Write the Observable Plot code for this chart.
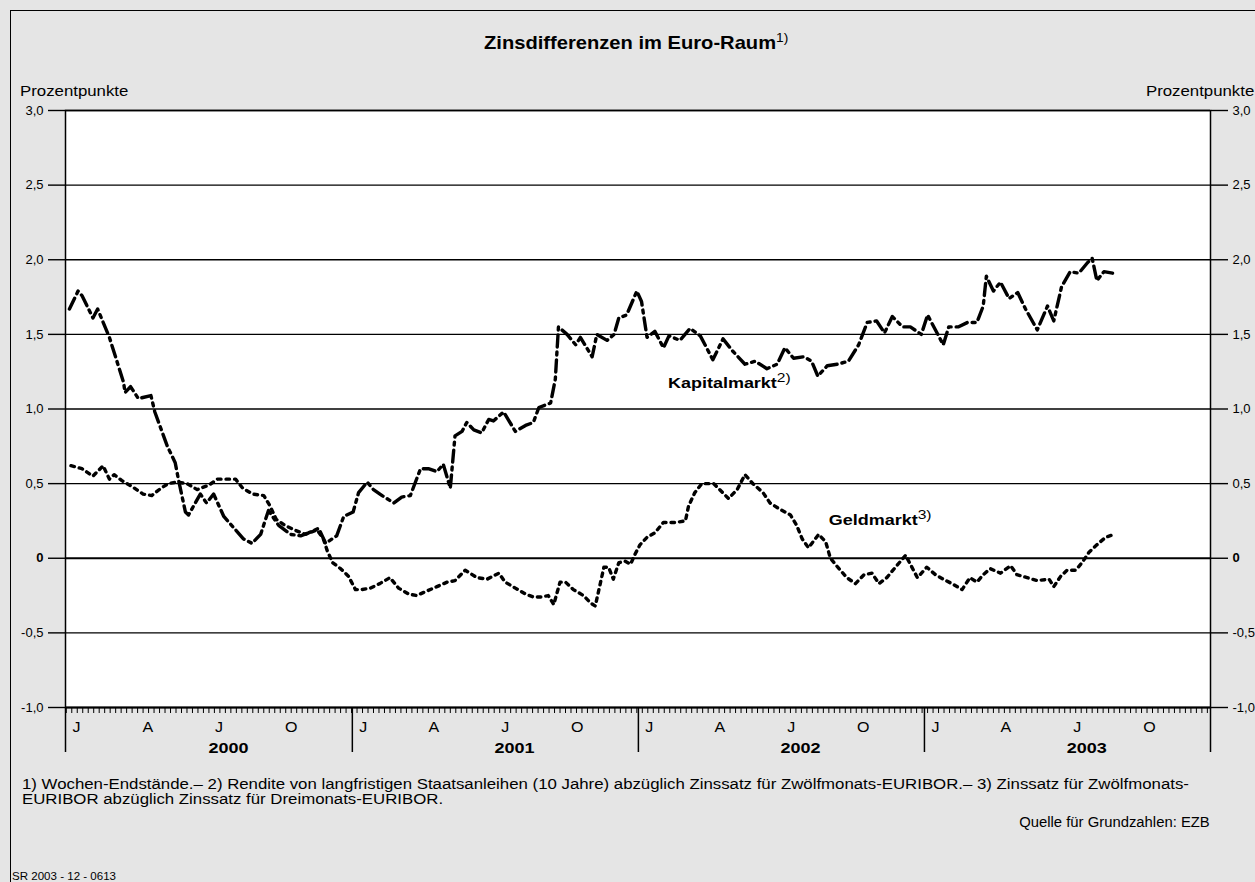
<!DOCTYPE html>
<html><head><meta charset="utf-8">
<script src="https://cdn.jsdelivr.net/npm/d3@7"></script>
<script src="https://cdn.jsdelivr.net/npm/@observablehq/plot@0.6"></script>
<style>
html,body{margin:0;padding:0;width:1255px;height:882px;overflow:hidden;background:#e5e5e5;font-family:"Liberation Sans",Arial,Helvetica,sans-serif;color:#000;}
#frame{position:absolute;left:10px;top:10px;width:1300px;height:950px;border:1.5px solid #000;box-sizing:border-box;}
.abs{position:absolute;white-space:nowrap;}
#title{left:484px;top:32px;font-weight:bold;font-size:19px;transform:scaleX(1.06);transform-origin:0 0;}
#title sup{font-weight:normal;font-size:13px;vertical-align:0;position:relative;top:-7px;}
#ppl{left:20px;top:83px;font-size:14px;transform:scaleX(1.2);transform-origin:0 0;}
#ppr{right:1px;top:83px;font-size:14px;transform:scaleX(1.2);transform-origin:100% 0;}
#chart{left:0;top:60px;}
#fn{left:22px;top:777px;font-size:14px;line-height:14.5px;transform:scaleX(1.2);transform-origin:0 0;}
#src{right:45px;top:814px;font-size:14px;transform:scaleX(1.06);transform-origin:100% 0;}
#sr{left:12px;top:870px;font-size:10.5px;transform:scaleX(1.1);transform-origin:0 0;}
</style>
</head><body>
<div id="frame"></div>
<div id="title" class="abs">Zinsdifferenzen im Euro-Raum<sup>1)</sup></div>
<div id="ppl" class="abs">Prozentpunkte</div>
<div id="ppr" class="abs">Prozentpunkte</div>
<div id="chart" class="abs"></div>
<div id="fn" class="abs">1) Wochen-Endstände.– 2) Rendite von langfristigen Staatsanleihen (10 Jahre) abzüglich Zinssatz für Zwölfmonats-EURIBOR.– 3) Zinssatz für Zwölfmonats-<br>EURIBOR abzüglich Zinssatz für Dreimonats-EURIBOR.</div>
<div id="src" class="abs">Quelle für Grundzahlen: EZB</div>
<div id="sr" class="abs">SR 2003 - 12 - 0613</div>
<script>
// ---- data ----
const kapDates = ["2000-01-06","2000-01-17","2000-01-22","2000-02-05","2000-02-11","2000-02-26","2000-03-15","2000-03-17","2000-03-24","2000-04-03","2000-04-19","2000-04-24","2000-05-10","2000-05-20","2000-05-24","2000-06-02","2000-06-06","2000-06-21","2000-06-29","2000-07-08","2000-07-21","2000-08-05","2000-08-15","2000-08-26","2000-09-06","2000-09-16","2000-09-29","2000-10-14","2000-10-27","2000-11-06","2000-11-19","2000-11-28","2000-12-12","2000-12-21",
"2001-01-02","2001-01-09","2001-01-20","2001-01-28","2001-02-08","2001-02-23","2001-03-05","2001-03-16","2001-03-29","2001-04-08","2001-04-19","2001-04-27","2001-05-06","2001-05-12","2001-05-21","2001-05-27","2001-06-05","2001-06-15","2001-06-24","2001-06-30","2001-07-13","2001-07-28","2001-08-10","2001-08-20","2001-08-27","2001-09-11","2001-09-17","2001-09-21","2001-10-02","2001-10-13","2001-10-19","2001-11-03","2001-11-09","2001-11-22","2001-12-01","2001-12-07","2001-12-17","2001-12-30",
"2002-01-05","2002-01-12","2002-01-22","2002-02-02","2002-02-09","2002-02-23","2002-03-08","2002-03-21","2002-04-06","2002-04-19","2002-05-01","2002-05-17","2002-05-30","2002-06-14","2002-06-27","2002-07-07","2002-07-18","2002-07-31","2002-08-10","2002-08-18","2002-08-30","2002-09-12","2002-09-26","2002-10-09","2002-10-20","2002-11-01","2002-11-11","2002-11-21","2002-12-04","2002-12-14","2002-12-28",
"2003-01-05","2003-01-25","2003-02-01","2003-02-13","2003-02-25","2003-03-09","2003-03-17","2003-03-21","2003-03-30","2003-04-08","2003-04-19","2003-04-30","2003-05-10","2003-05-25","2003-06-07","2003-06-15","2003-06-25","2003-07-06","2003-07-17","2003-07-28","2003-08-03","2003-08-09","2003-08-18","2003-08-29"];
const kapValues = [1.67,1.79,1.76,1.61,1.67,1.48,1.18,1.11,1.15,1.07,1.09,0.98,0.75,0.64,0.53,0.31,0.29,0.43,0.37,0.43,0.28,0.19,0.13,0.10,0.16,0.32,0.22,0.16,0.15,0.17,0.20,0.10,0.15,0.28,
0.31,0.44,0.51,0.46,0.42,0.37,0.41,0.42,0.60,0.60,0.58,0.63,0.47,0.82,0.85,0.91,0.86,0.84,0.93,0.92,0.98,0.85,0.89,0.91,1.01,1.04,1.20,1.55,1.50,1.43,1.48,1.35,1.50,1.46,1.50,1.61,1.63,1.79,
1.72,1.48,1.52,1.41,1.49,1.46,1.54,1.49,1.33,1.47,1.39,1.30,1.32,1.27,1.30,1.41,1.34,1.35,1.32,1.22,1.29,1.30,1.32,1.43,1.58,1.59,1.51,1.62,1.55,1.55,1.50,
1.63,1.43,1.55,1.55,1.58,1.58,1.69,1.89,1.79,1.85,1.74,1.78,1.67,1.53,1.69,1.59,1.82,1.92,1.91,1.98,2.01,1.86,1.92,1.91];

const geldDates = ["2000-01-08","2000-01-22","2000-02-05","2000-02-18","2000-02-26","2000-03-03","2000-03-13","2000-03-26","2000-04-09","2000-04-20","2000-05-02","2000-05-11","2000-05-22","2000-06-04","2000-06-17","2000-07-02","2000-07-13","2000-07-26","2000-08-05","2000-08-14","2000-08-27","2000-09-10","2000-09-18","2000-09-26","2000-10-07","2000-10-19","2000-11-02","2000-11-17","2000-11-25","2000-11-30","2000-12-07","2000-12-17","2000-12-27",
"2001-01-05","2001-01-13","2001-01-24","2001-02-05","2001-02-18","2001-03-01","2001-03-14","2001-03-24","2001-04-06","2001-04-19","2001-05-02","2001-05-12","2001-05-25","2001-06-09","2001-06-22","2001-07-07","2001-07-15","2001-07-28","2001-08-10","2001-08-20","2001-08-30","2001-09-08","2001-09-15","2001-09-23","2001-09-30","2001-10-10","2001-10-23","2001-11-01","2001-11-07","2001-11-18","2001-11-24","2001-11-30","2001-12-07","2001-12-15","2001-12-22","2001-12-28",
"2002-01-03","2002-01-12","2002-01-22","2002-02-02","2002-02-17","2002-03-02","2002-03-06","2002-03-14","2002-03-23","2002-04-07","2002-04-26","2002-05-07","2002-05-17","2002-05-27","2002-06-09","2002-06-18","2002-06-30","2002-07-14","2002-07-22","2002-07-29","2002-08-06","2002-08-19","2002-08-28","2002-09-03","2002-09-14","2002-09-24","2002-10-05","2002-10-16","2002-10-26","2002-11-04","2002-11-14","2002-11-25","2002-12-08","2002-12-14","2002-12-23",
"2003-01-04","2003-01-15","2003-01-25","2003-02-05","2003-02-18","2003-02-28","2003-03-09","2003-03-17","2003-03-26","2003-04-08","2003-04-21","2003-04-29","2003-05-12","2003-05-25","2003-06-09","2003-06-15","2003-06-24","2003-07-02","2003-07-13","2003-07-21","2003-07-30","2003-08-09","2003-08-20","2003-08-31"];
const geldValues = [0.62,0.60,0.55,0.62,0.53,0.56,0.52,0.48,0.43,0.42,0.47,0.50,0.51,0.50,0.46,0.49,0.53,0.53,0.53,0.47,0.43,0.42,0.35,0.26,0.22,0.19,0.16,0.19,0.13,0.05,-0.03,-0.07,-0.12,
-0.21,-0.21,-0.20,-0.17,-0.13,-0.20,-0.24,-0.25,-0.22,-0.19,-0.16,-0.15,-0.08,-0.13,-0.14,-0.10,-0.16,-0.20,-0.24,-0.26,-0.26,-0.25,-0.31,-0.16,-0.16,-0.21,-0.25,-0.30,-0.32,-0.06,-0.06,-0.14,-0.03,-0.02,-0.04,0.03,
0.09,0.14,0.17,0.24,0.24,0.25,0.35,0.44,0.50,0.50,0.40,0.46,0.56,0.50,0.44,0.37,0.33,0.29,0.22,0.13,0.07,0.16,0.11,0.00,-0.07,-0.13,-0.17,-0.11,-0.10,-0.17,-0.13,-0.06,0.02,-0.04,-0.13,
-0.06,-0.11,-0.14,-0.17,-0.21,-0.13,-0.16,-0.11,-0.07,-0.10,-0.05,-0.11,-0.13,-0.15,-0.14,-0.19,-0.12,-0.08,-0.08,-0.03,0.04,0.09,0.14,0.16];

const seriesNames = ["Kapitalmarkt", "Geldmarkt"];
const seriesNotes = ["2)", "3)"];
const yTicks = [-1, -0.5, 0, 0.5, 1, 1.5, 2, 2.5, 3];
const quarterLabels = ["J", "A", "J", "O"];
const years = [2000, 2001, 2002, 2003];

// ---- build tables ----
const kap = kapDates.map((d, i) => ({date: new Date(d), value: kapValues[i]}));
const geld = geldDates.map((d, i) => ({date: new Date(d), value: geldValues[i]}));
const yearStarts = [...years, years[years.length - 1] + 1].map(y => new Date(Date.UTC(y, 0, 1)));
const quarterTicks = years.flatMap(y => [0, 3, 6, 9].map(m => new Date(Date.UTC(y, m, 15))));
const yearLabelTicks = years.map(y => new Date(Date.UTC(y, 6, 27)));
const weekTicks = d3.utcWeek.range(yearStarts[0], yearStarts[yearStarts.length - 1]);
const fmtY = d => d === 0 ? "0" : d.toFixed(1).replace(".", ",");

const font = '"Liberation Sans", Arial, Helvetica, sans-serif';
const chart = Plot.plot({
  width: 1255, height: 710,
  marginLeft: 65, marginRight: 45, marginTop: 50, marginBottom: 63,
  style: {background: "transparent", fontFamily: font, fontSize: "13px", color: "#000", overflow: "visible"},
  x: {type: "utc", domain: [yearStarts[0], yearStarts[yearStarts.length - 1]], label: null},
  y: {domain: [-1, 3], label: null},
  marks: [
    Plot.frame({fill: "white", stroke: null}),
    Plot.ruleY(yTicks, {stroke: "#000", strokeWidth: d => (d === 0 || d === -1) ? 2.2 : 1.4}),
    Plot.frame({stroke: "#000", strokeWidth: 1.5, fill: null}),
    Plot.axisY({anchor: "left", label: null, ticks: yTicks, tickSize: 17, tickPadding: 5, tickFormat: fmtY, fontSize: 13, strokeWidth: 1.4}),
    Plot.axisY({anchor: "right", label: null, ticks: yTicks, tickSize: 17, tickPadding: 5, tickFormat: fmtY, fontSize: 13, strokeWidth: 1.4}),
    Plot.axisX({label: null, ticks: weekTicks, tickSize: 6, tickFormat: () => "", strokeWidth: 1}),
    Plot.axisX({label: null, ticks: yearStarts, tickSize: 45, tickFormat: () => "", strokeWidth: 1.5}),
    Plot.axisX({label: null, ticks: quarterTicks, tickSize: 0, tickPadding: 14, fontSize: 15, tickFormat: d => quarterLabels[d.getUTCMonth() / 3]}),
    Plot.axisX({label: null, ticks: yearLabelTicks, tickSize: 0, tickPadding: 35, fontSize: 15, fontWeight: "bold", tickFormat: d => String(d.getUTCFullYear())}),
    Plot.line(geld, {x: "date", y: "value", stroke: "#000", strokeWidth: 3.4, strokeDasharray: "3.5,5"}),
    Plot.line(kap, {x: "date", y: "value", stroke: "#000", strokeWidth: 3.4, strokeDasharray: "12,5,3,5"}),
    Plot.text([kap[76]], {x: "date", y: "value", text: () => seriesNames[0], textAnchor: "start", dx: -1, dy: 47, fontSize: 15, fontWeight: "bold"}),
    Plot.text([geld[91]], {x: "date", y: "value", text: () => seriesNames[1], textAnchor: "start", dx: 3, dy: -22, fontSize: 15, fontWeight: "bold"})
  ]
});
document.getElementById("chart").appendChild(chart);

function stretch(t, s) {
  const x = +t.getAttribute("x") || 0, y = +t.getAttribute("y") || 0;
  const T = t.getAttribute("transform") || "";
  t.setAttribute("transform", `${T} translate(${x},${y}) scale(${s},1) translate(${-x},${-y})`);
}
// zero label bold
chart.querySelectorAll('g[aria-label="y-axis tick label"] text').forEach(t => {
  if (t.textContent === "0") t.setAttribute("font-weight", "bold");
});
// year and quarter labels slightly wider, as in the original
chart.querySelectorAll('g[aria-label="x-axis tick label"] text').forEach(t => {
  stretch(t, /^\d{4}$/.test(t.textContent) ? 1.2 : 1.07);
});
// superscript notes on series labels
chart.querySelectorAll('g[aria-label="text"] text').forEach(t => {
  const i = seriesNames.indexOf(t.textContent);
  if (i < 0) return;
  const ts = document.createElementNS("http://www.w3.org/2000/svg", "tspan");
  ts.setAttribute("dy", "-6");
  ts.setAttribute("font-size", "13");
  ts.setAttribute("font-weight", "normal");
  ts.textContent = seriesNotes[i];
  t.appendChild(ts);
  stretch(t, 1.2);
});
</script>
</body></html>
